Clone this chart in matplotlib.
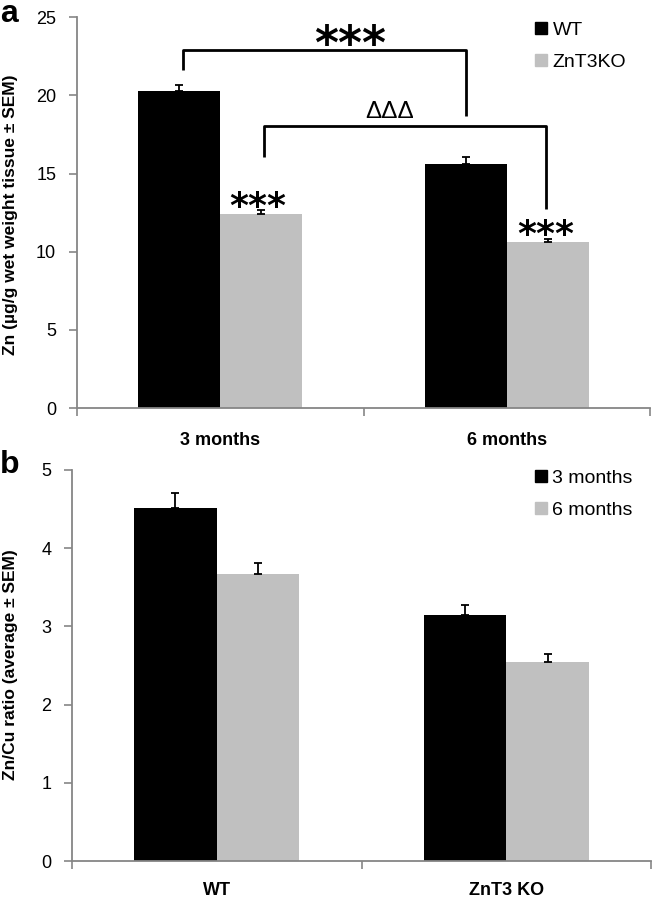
import matplotlib
matplotlib.use('Agg')
import matplotlib.pyplot as plt
from matplotlib.patches import Patch

plt.rcParams['font.family'] = ['Liberation Sans', 'DejaVu Sans']

# ---------------- data: panel a ----------------
a_categories = ['3 months', '6 months']
a_series = ['WT', 'ZnT3KO']
a_wt = [20.3, 15.6]
a_wt_err = [0.40, 0.49]
a_ko = [12.4, 10.6]
a_ko_err = [0.26, 0.20]
a_yticks = [0, 5, 10, 15, 20, 25]

# ---------------- data: panel b ----------------
b_categories = ['WT', 'ZnT3 KO']
b_series = ['3 months', '6 months']
b_3m = [4.52, 3.14]
b_3m_err = [0.18, 0.13]
b_6m = [3.67, 2.55]
b_6m_err = [0.14, 0.10]
b_yticks = [0, 1, 2, 3, 4, 5]

DARK = '#000000'
LIGHT = '#c0c0c0'
SPINE = '#868686'

W, H = 655, 900
fig = plt.figure(figsize=(W / 100, H / 100), dpi=100)

def px_axes(left, right, top, bottom):
    return fig.add_axes([left / W, 1 - bottom / H, (right - left) / W, (bottom - top) / H])

ax1 = px_axes(77, 650, 17.3, 408)
ax2 = px_axes(72, 651, 470, 861)

bw = 1 / 3.5

def style(ax, yticks, cats, xpad):
    ax.set_xlim(-0.5, 1.5)
    ax.set_ylim(yticks[0], yticks[-1])
    for s in ['top', 'right']:
        ax.spines[s].set_visible(False)
    for s in ['left', 'bottom']:
        ax.spines[s].set_color(SPINE)
        ax.spines[s].set_linewidth(1.3)
    ax.set_yticks(yticks)
    ax.set_yticklabels([str(t) for t in yticks], fontsize=13)
    ax.tick_params(axis='y', direction='out', length=6, width=1.2, color=SPINE, pad=9)
    ax.set_xticks(range(len(cats)))
    ax.set_xticklabels(cats, fontsize=13, fontweight='bold')
    ax.tick_params(axis='x', which='major', length=0, pad=xpad)
    ax.set_xticks([-0.5, 0.5, 1.5], minor=True)
    ax.tick_params(axis='x', which='minor', direction='out', length=6, width=1.2, color=SPINE)

def bars(ax, v1, e1, v2, e2):
    x = range(len(v1))
    x1 = [i - bw / 2 for i in x]
    x2 = [i + bw / 2 for i in x]
    ax.bar(x1, v1, width=bw, color=DARK, zorder=2)
    ax.bar(x2, v2, width=bw, color=LIGHT, zorder=2)
    ax.errorbar(x1, v1, yerr=[[0] * len(v1), e1], fmt='none', ecolor='black',
                elinewidth=1.3, capsize=3, capthick=1.3, zorder=3)
    ax.errorbar(x2, v2, yerr=[[0] * len(v2), e2], fmt='none', ecolor='black',
                elinewidth=1.3, capsize=3, capthick=1.3, zorder=3)

# ---- panel a ----
style(ax1, a_yticks, a_categories, 17)
bars(ax1, a_wt, a_wt_err, a_ko, a_ko_err)
fig.text(11 / W, 1 - 215 / H, 'Zn (µg/g wet weight tissue ± SEM)', rotation=90,
         ha='center', va='center', fontsize=12.5, fontweight='bold')

lw = 2.0
# top bracket (WT 3 months vs WT 6 months)
ax1.plot([-0.131, -0.131, 0.858, 0.858], [21.6, 22.9, 22.9, 18.7], color='black', lw=lw,
         solid_capstyle='butt', clip_on=False)
ax1.text(0.453, 22.35, '***', ha='center', va='baseline', fontsize=33,
         family='DejaVu Sans', fontweight='bold', clip_on=False)
# delta bracket (KO 3 months vs KO 6 months)
ax1.plot([0.153, 0.153, 1.136, 1.136], [16.08, 18.04, 18.04, 12.73], color='black', lw=lw,
         solid_capstyle='butt', clip_on=False)
ax1.text(0.592, 18.55, 'ΔΔΔ', ha='center', va='baseline', fontsize=17.5)
# stars above KO bars
ax1.text(0.132, 12.25, '***', ha='center', va='baseline', fontsize=26,
         family='DejaVu Sans', fontweight='bold')
ax1.text(1.136, 10.4, '***', ha='center', va='baseline', fontsize=26,
         family='DejaVu Sans', fontweight='bold')

fig.legend([Patch(color=DARK), Patch(color=LIGHT)], a_series, loc='upper left',
           bbox_to_anchor=(535 / W, 1 - 22 / H), frameon=False, handlelength=0.6,
           handleheight=0.6, handletextpad=0.3, labelspacing=0.75, fontsize=14,
           borderpad=0, borderaxespad=0)

# ---- panel b ----
style(ax2, b_yticks, b_categories, 15)
bars(ax2, b_3m, b_3m_err, b_6m, b_6m_err)
fig.text(11 / W, 1 - 665 / H, 'Zn/Cu ratio (average ± SEM)', rotation=90,
         ha='center', va='center', fontsize=12.5, fontweight='bold')
fig.legend([Patch(color=DARK), Patch(color=LIGHT)], b_series, loc='upper left',
           bbox_to_anchor=(535 / W, 1 - 470 / H), frameon=False, handlelength=0.6,
           handleheight=0.6, handletextpad=0.3, labelspacing=0.75, fontsize=14,
           borderpad=0, borderaxespad=0)

# panel letters
fig.text(0.0, 1 - 22 / H, 'a', fontsize=23, fontweight='bold', va='baseline', ha='left')
fig.text(0.0, 1 - 473 / H, 'b', fontsize=23, fontweight='bold', va='baseline', ha='left')

fig.savefig('out.png', dpi=100)
